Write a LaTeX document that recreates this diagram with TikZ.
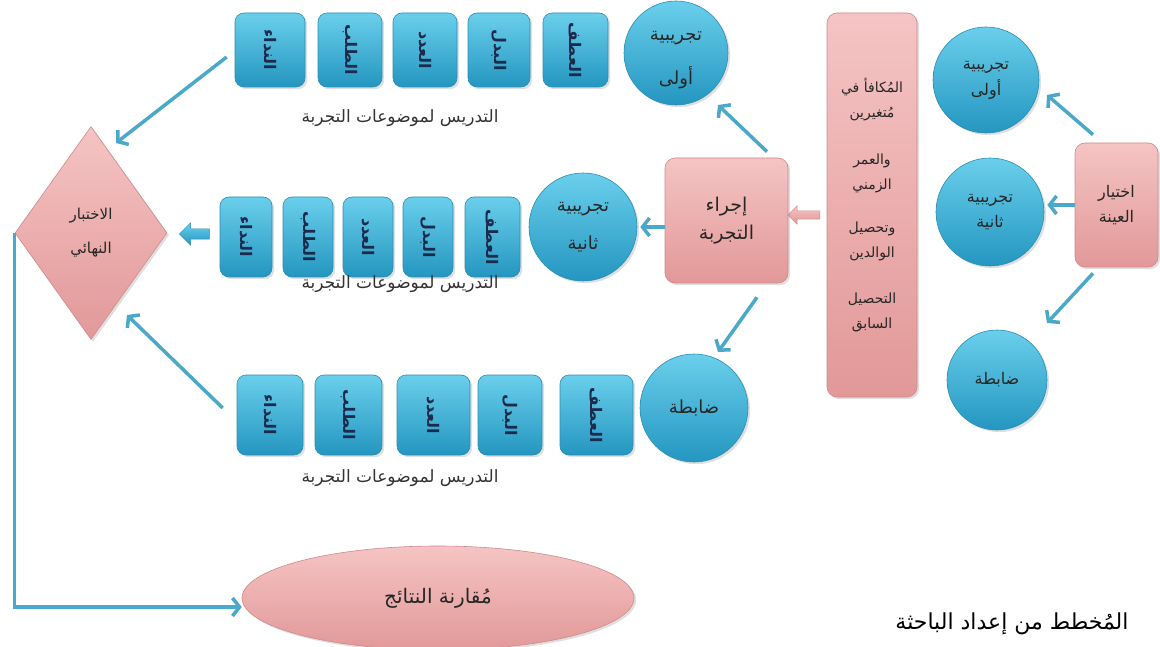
\documentclass[tikz,border=0pt]{standalone}
\usepackage{fontspec}
\newfontfamily\arabicfont[Script=Arabic]{DejaVu Sans}
\TeXXeTstate=1
\usetikzlibrary{arrows.meta,shapes.geometric,shapes.arrows,shadows}

\definecolor{blueH}{HTML}{6ACFEC}
\definecolor{blueL}{HTML}{2496C0}
\definecolor{blueE}{HTML}{2A8DB3}
\definecolor{pinkH}{HTML}{F5C4C4}
\definecolor{pinkL}{HTML}{E29898}
\definecolor{pinkE}{HTML}{CF8A8A}
\definecolor{arrowB}{HTML}{4AA8C8}
\definecolor{navyT}{HTML}{1C2A4C}

\newcommand\artxt[1]{\beginR #1\endR}
\newcommand\vtxt[1]{\rotatebox{-90}{\beginR #1\endR}}

\tikzset{	topic/.style={draw=blueE,line width=0.6pt,rounded corners=9pt,top color=blueH,
				bottom color=blueL,inner sep=0pt,text=navyT,
				font=\arabicfont\bfseries\fontsize{16}{18}\selectfont,
				drop shadow={opacity=0.25}},
		grp/.style={circle,draw=blueE,line width=0.6pt,top color=blueH,bottom color=blueL,
				inner sep=0pt,align=center,text=black!85,
				font=\arabicfont\fontsize{18}{22}\selectfont,drop shadow={opacity=0.25}},
		pinkbox/.style={draw=pinkE,line width=0.6pt,rounded corners=10pt,top color=pinkH,
				bottom color=pinkL,inner sep=0pt,align=center,text=black!85,
				font=\arabicfont\fontsize{18}{22}\selectfont,drop shadow={opacity=0.25}},
		caption/.style={font=\arabicfont\fontsize{17}{20}\selectfont,text=black!80},
		arr/.style={arrowB,line width=3.5pt,->}
				}

\begin{document}
\begin{tikzpicture}[x=1pt,y=-1pt,>={Straight Barb[length=7pt,width=18pt]}]
	\useasboundingbox (0,0) rectangle (1160,647);

	% auswahl rechts
	\node[pinkbox,minimum width=83pt,minimum height=124pt,font=\arabicfont\fontsize{16}{25}\selectfont] (sample) at (1116.5,205) {\artxt{اختيار}\\\artxt{العينة}};
	\node[grp,minimum size=106pt,font=\arabicfont\fontsize{16}{26}\selectfont] (rc1) at (986,80) {\artxt{تجريبية}\\\artxt{أولى}};
	\node[grp,minimum size=108pt,font=\arabicfont\fontsize{16}{25}\selectfont] (rc2) at (990,212) {\artxt{تجريبية}\\\artxt{ثانية}};
	\node[grp,minimum size=100pt,font=\arabicfont\fontsize{16}{20}\selectfont] (rc3) at (997,380) {\artxt{ضابطة}};

	\node[pinkbox,minimum width=90pt,minimum height=384pt,font=\arabicfont\fontsize{14}{25}\selectfont] (equal) at (872,205)
		{\artxt{المُكافأ في}\\\artxt{مُتغيرين}\\[22pt]\artxt{والعمر}\\\artxt{الزمني}\\[18pt]\artxt{وتحصيل}\\\artxt{الوالدين}\\[21pt]\artxt{التحصيل}\\\artxt{السابق}};
	\node[single arrow,shape border rotate=180,draw=pinkE,top color=pinkH,bottom color=pinkL,
		minimum height=32pt,inner sep=4pt,single arrow head extend=5pt] (pArr) at (806,215) {};

	\node[pinkbox,minimum width=123pt,minimum height=125pt,font=\arabicfont\fontsize{19}{24}\selectfont] (run) at (726.5,220.5) {\artxt{إجراء}\\[4pt]\artxt{التجربة}};

	% drei gruppen
	\node[grp,minimum size=104pt] (c1) at (676,53) {};
	\node[align=center,text=black!85,font=\arabicfont\fontsize{18}{22}\selectfont] (c1txt) at ([yshift=-7pt]c1.center) {\artxt{تجريبية}\\[20pt]\artxt{أولى}};
	\node[grp,minimum size=108pt] (c2) at (583,227) {\artxt{تجريبية}\\[16pt]\artxt{ثانية}};
	\node[grp,minimum size=108pt] (c3) at (694,408) {\artxt{ضابطة}};

	\node[topic,minimum width=70pt,minimum height=74pt] (t1) at (270,50) {\vtxt{النداء}};
	\node[topic,minimum width=64pt,minimum height=74pt] (t2) at (350,50) {\vtxt{الطلب}};
	\node[topic,minimum width=64pt,minimum height=74pt] (t3) at (425,50) {\vtxt{العدد}};
	\node[topic,minimum width=62pt,minimum height=74pt] (t4) at (499,50) {\vtxt{البدل}};
	\node[topic,minimum width=65pt,minimum height=74pt] (t5) at (575.5,50) {\vtxt{العطف}};
	\node[caption] (lbl1) at (400,118) {\artxt{التدريس لموضوعات التجربة}};

	\node[topic,minimum width=52pt,minimum height=80pt] (m1) at (246,237) {\vtxt{النداء}};
	\node[topic,minimum width=50pt,minimum height=80pt] (m2) at (308,237) {\vtxt{الطلب}};
	\node[topic,minimum width=50pt,minimum height=80pt] (m3) at (368,237) {\vtxt{العدد}};
	\node[topic,minimum width=50pt,minimum height=80pt] (m4) at (428,237) {\vtxt{البدل}};
	\node[topic,minimum width=55pt,minimum height=80pt] (m5) at (492.5,237) {\vtxt{العطف}};
	\node[caption] (lbl2) at (400,284) {\artxt{التدريس لموضوعات التجربة}};

	\node[topic,minimum width=66pt,minimum height=80pt] (u1) at (270,415) {\vtxt{النداء}};
	\node[topic,minimum width=67pt,minimum height=80pt] (u2) at (348.5,415) {\vtxt{الطلب}};
	\node[topic,minimum width=73pt,minimum height=80pt] (u3) at (433.5,415) {\vtxt{العدد}};
	\node[topic,minimum width=64pt,minimum height=80pt] (u4) at (510,415) {\vtxt{البدل}};
	\node[topic,minimum width=73pt,minimum height=80pt] (u5) at (596.5,415) {\vtxt{العطف}};
	\node[caption] (lbl3) at (400,478) {\artxt{التدريس لموضوعات التجربة}};

	% test und vergleich
	\node[diamond,draw=pinkE,line width=0.6pt,top color=pinkH,bottom color=pinkL,minimum width=152pt,
		minimum height=213pt,inner sep=0pt,align=center,text=black!85,
		font=\arabicfont\fontsize{15}{18}\selectfont,drop shadow={opacity=0.25}] (final) at (91,233)
		{\artxt{الاختبار}\\[16pt]\artxt{النهائي}};
	\node[single arrow,shape border rotate=180,draw=blueE,top color=blueH,bottom color=blueL,
		minimum height=30pt,inner sep=5pt,single arrow head extend=6pt] (bArr) at (197,234) {};

	\node[ellipse,draw=pinkE,line width=0.6pt,top color=pinkH,bottom color=pinkL,minimum width=392pt,
		minimum height=104pt,text=black!85,font=\arabicfont\fontsize{20}{24}\selectfont,
		drop shadow={opacity=0.25}] (cmp) at (438,598) {\artxt{مُقارنة النتائج}};
	\node[font=\arabicfont\fontsize{22}{26}\selectfont] (credit) at (1012,624) {\artxt{المُخطط من إعداد الباحثة}};

	\draw[arr] ([xshift=-23.5pt,yshift=8pt]sample.north) -- ([xshift=61pt,yshift=-15pt]rc1.center);
	\draw[arr,shorten >=3pt] (sample.west) -- (sample.west -| rc2.east);
	\draw[arr] ([xshift=-23.5pt,yshift=-6pt]sample.south) -- ([xshift=50pt,yshift=57pt]rc3.center);

	\draw[arr] ([xshift=40.5pt,yshift=6pt]run.north) -- ([xshift=42pt,yshift=-52pt]c1.center);
	\draw[arr,shorten >=3pt] (run.west |- c2.east) -- (c2.east);
	\draw[arr] ([xshift=30.5pt,yshift=-14pt]run.south) -- ([xshift=24pt,yshift=56pt]c3.center);

	\draw[arr] ([xshift=-8pt,yshift=-7pt]t1.west) -- ([xshift=25pt,yshift=90pt]final.center);
	\draw[arr] ([xshift=-14pt,yshift=7pt]u1.west) -- ([xshift=36pt,yshift=-82pt]final.center);
	\draw[arr] (final.west) |- ([yshift=-9pt]cmp.west);
\end{tikzpicture}
\end{document}
